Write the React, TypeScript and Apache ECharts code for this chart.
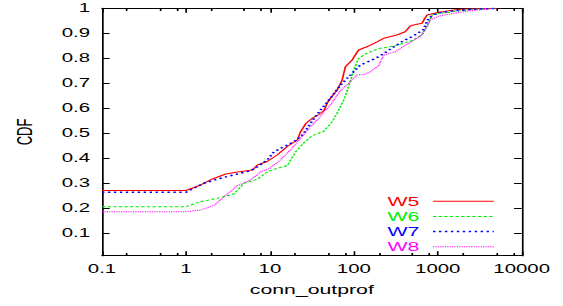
import React, { useEffect, useRef } from "react";
import * as echarts from "echarts";

const seriesNames = ["W5", "W6", "W7", "W8"];
const seriesColors = ["#ff0000", "#00ee00", "#0000ff", "#ff00ff"];

const w5X = [0.1, 1, 1.5, 2.07, 2.98, 4.1, 6.2, 7.1, 9.3, 12.2, 16.1, 21.2, 23.2, 27, 31.9, 38.3, 43.9, 48, 52.7, 63.2, 72.6, 79.4, 95.3, 114, 143, 189, 227, 326, 410, 470, 515, 647, 743, 977, 1540, 1850, 5000];
const w5Y = [0.271, 0.271, 0.293, 0.317, 0.337, 0.345, 0.353, 0.373, 0.387, 0.413, 0.447, 0.473, 0.506, 0.54, 0.56, 0.575, 0.59, 0.62, 0.64, 0.673, 0.713, 0.766, 0.793, 0.833, 0.846, 0.866, 0.88, 0.893, 0.906, 0.929, 0.933, 0.94, 0.973, 0.982, 0.993, 0.996, 1];

const w6X = [0.1, 1, 1.5, 2.37, 3.74, 4.91, 7.1, 9.3, 12.2, 16.1, 20.2, 25.4, 31.9, 43.9, 55.2, 63.2, 76, 86.6, 99.8, 114, 143, 189, 207, 298, 392, 515, 676, 776, 851, 1170, 1850, 2660, 5000];
const w6Y = [0.206, 0.206, 0.226, 0.24, 0.257, 0.3, 0.316, 0.345, 0.36, 0.37, 0.425, 0.462, 0.49, 0.508, 0.546, 0.58, 0.633, 0.686, 0.753, 0.8, 0.82, 0.836, 0.84, 0.849, 0.86, 0.873, 0.9, 0.94, 0.973, 0.982, 0.99, 0.996, 1];

const w7X = [0.1, 1, 1.64, 2.6, 4.1, 5.9, 7.1, 9.3, 11.2, 14.7, 19.3, 23.2, 25.4, 30.5, 40.1, 52.7, 69.4, 91.1, 119.6, 157, 207, 298, 392, 515, 676, 776, 977, 1540, 2700, 5000];
const w7Y = [0.264, 0.264, 0.3, 0.32, 0.337, 0.35, 0.366, 0.393, 0.426, 0.446, 0.466, 0.486, 0.5, 0.54, 0.593, 0.64, 0.693, 0.733, 0.773, 0.79, 0.81, 0.845, 0.87, 0.89, 0.915, 0.96, 0.981, 0.99, 0.996, 1];

const w8X = [0.1, 1, 1.5, 2.2, 2.84, 4.1, 5.9, 7.8, 10, 13.3, 17.6, 23.2, 30.5, 38.3, 43.9, 52.7, 69, 83, 109, 131, 157, 197, 227, 313, 430, 615, 743, 819, 1070, 1540, 2450, 3500, 5000];
const w8Y = [0.186, 0.186, 0.193, 0.213, 0.246, 0.29, 0.313, 0.346, 0.36, 0.393, 0.433, 0.48, 0.526, 0.56, 0.586, 0.613, 0.67, 0.693, 0.733, 0.735, 0.746, 0.77, 0.813, 0.826, 0.856, 0.886, 0.926, 0.955, 0.97, 0.98, 0.99, 0.995, 1];

const xMinorTicks = [0.2, 0.5, 0.8, 2, 5, 8, 20, 50, 80, 200, 500, 800, 2000, 5000, 8000];
const yTicks = [0.1, 0.2, 0.3, 0.4, 0.5, 0.6, 0.7, 0.8, 0.9, 1];

const STRETCH = 1.7;
const W = 563 / STRETCH;
const H = 306;
const FONT = "'Liberation Sans', Arial, Helvetica, sans-serif";

const allX = [w5X, w6X, w7X, w8X];
const allY = [w5Y, w6Y, w7Y, w8Y];
const dashes: (number[] | "solid")[] = ["solid", [2, 1.3], [1.4, 2.1], [0.7, 0.7]];
const widths = [1, 1, 1.5, 1];

export default function App() {
  const ref = useRef<HTMLDivElement>(null);
  useEffect(() => {
    if (!ref.current) return;
    const chart = echarts.init(ref.current, null, { renderer: "svg", width: W, height: H });
    const grid = { left: 59.4, right: 24.3, top: 8.3, bottom: 50.3 };
    const fmt = (v: number) => String(Number(Number(v).toPrecision(6)));
    const baseX = {
      type: "log",
      logBase: 10,
      min: 0.1,
      max: 10000,
      splitLine: { show: false },
    };
    const axisLine = { show: true, lineStyle: { color: "#000", width: 1 } };
    chart.setOption({
      animation: false,
      backgroundColor: "#fff",
      grid: [grid, grid],
      xAxis: [
        {
          ...baseX,
          gridIndex: 0,
          position: "bottom",
          axisLine,
          axisTick: { show: true, inside: true, length: 4.5, lineStyle: { color: "#000" } },
          axisLabel: { show: true, margin: 7, fontSize: 12, color: "#000", fontFamily: FONT, formatter: fmt },
          name: "conn_outprof",
          nameLocation: "middle",
          nameGap: 27,
          nameTextStyle: { fontSize: 12.5, color: "#000", fontFamily: FONT },
        },
        {
          ...baseX,
          gridIndex: 0,
          position: "top",
          axisLine,
          axisTick: { show: true, inside: true, length: 4.5, lineStyle: { color: "#000" } },
          axisLabel: { show: false },
        },
        {
          ...baseX,
          gridIndex: 1,
          position: "bottom",
          axisLine: { show: false },
          axisTick: { show: true, inside: true, length: 2.7, customValues: xMinorTicks, lineStyle: { color: "#000" } },
          axisLabel: { show: false },
        },
        {
          ...baseX,
          gridIndex: 1,
          position: "top",
          axisLine: { show: false },
          axisTick: { show: true, inside: true, length: 2.7, customValues: xMinorTicks, lineStyle: { color: "#000" } },
          axisLabel: { show: false },
        },
      ],
      yAxis: [
        {
          type: "value",
          gridIndex: 0,
          position: "left",
          min: 0.01,
          max: 1,
          splitLine: { show: false },
          axisLine,
          axisTick: { show: true, inside: true, length: 4.5, customValues: yTicks, lineStyle: { color: "#000" } },
          axisLabel: { show: true, margin: 7, fontSize: 12, color: "#000", fontFamily: FONT, customValues: yTicks, formatter: fmt },
          name: "CDF",
          nameLocation: "middle",
          nameGap: 39,
          nameTextStyle: { fontSize: 13, color: "#000", fontFamily: FONT },
        },
        {
          type: "value",
          gridIndex: 0,
          position: "right",
          min: 0.01,
          max: 1,
          splitLine: { show: false },
          axisLine,
          axisTick: { show: true, inside: true, length: 4.5, customValues: yTicks, lineStyle: { color: "#000" } },
          axisLabel: { show: false },
        },
        {
          type: "value",
          gridIndex: 1,
          min: 0.01,
          max: 1,
          show: false,
        },
      ],
      legend: {
        orient: "vertical",
        right: 40,
        top: 194.7,
        align: "right",
        itemWidth: 35.7,
        itemHeight: 12,
        itemGap: 2.2,
        padding: 0,
        selectedMode: false,
        itemStyle: { opacity: 0 },
        textStyle: { fontSize: 12.5, fontFamily: FONT, padding: [0, 3, 0, 0] },
        data: seriesNames.map((n, i) => ({
          name: n,
          textStyle: { color: seriesColors[i] },
          lineStyle: { width: widths[i], color: seriesColors[i], type: dashes[i] },
        })),
      },
      series: seriesNames.map((n, i) => ({
        name: n,
        type: "line",
        xAxisIndex: 0,
        yAxisIndex: 0,
        symbol: "none",
        data: allX[i].map((x, j) => [x, allY[i][j]]),
        itemStyle: { color: seriesColors[i] },
        lineStyle: { color: seriesColors[i], width: widths[i], type: dashes[i] },
      })),
    });
    return () => chart.dispose();
  }, []);
  return (
    <div style={{ position: "fixed", left: 0, top: 0, width: 563, height: 306, overflow: "hidden", background: "#fff" }}>
      <div
        ref={ref}
        style={{ width: W, height: H, transform: `scaleX(${STRETCH})`, transformOrigin: "0 0" }}
      />
    </div>
  );
}
